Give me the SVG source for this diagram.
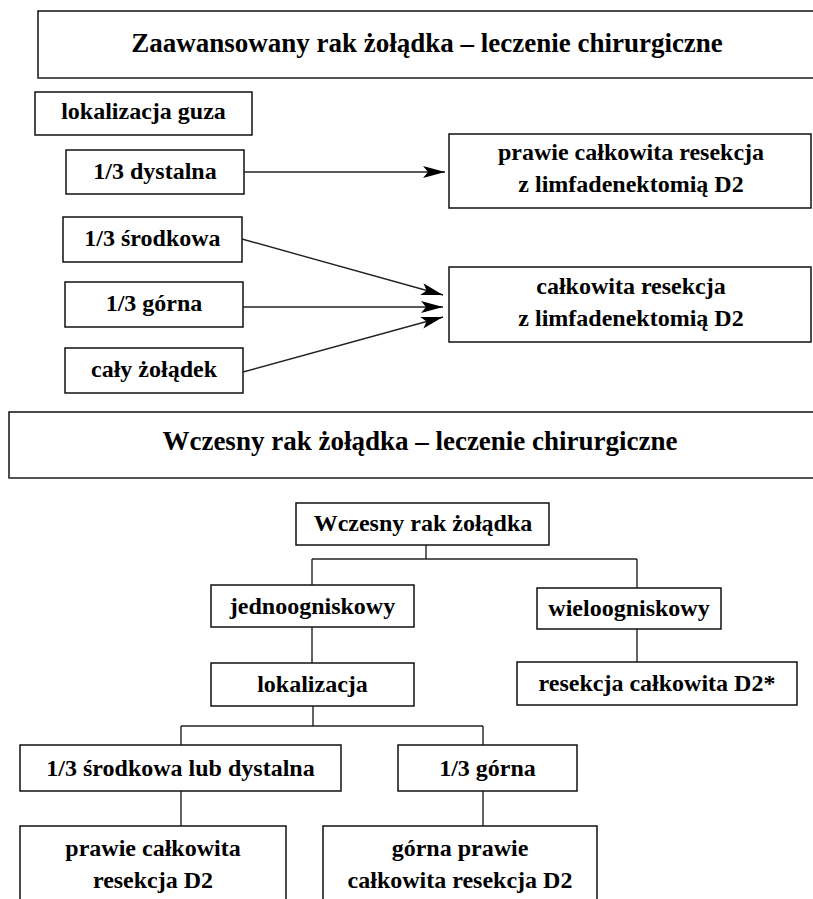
<svg xmlns="http://www.w3.org/2000/svg" width="813" height="899" viewBox="0 0 813 899">
<defs>
<style>
.box{fill:#fff;stroke:#111;stroke-width:1.5}
.t{font-family:"Liberation Serif","Times New Roman",serif;font-weight:bold;font-size:24px;fill:#000;text-anchor:middle}
.title{font-size:27px}
.ln{stroke:#222;stroke-width:1.4;fill:none}
.shadow{stroke:#555;stroke-width:2}
</style>
<marker id="arr" markerUnits="userSpaceOnUse" markerWidth="24" markerHeight="14" refX="22" refY="6" orient="auto">
<path d="M0,0 L22,6 L0,12 L5,6 Z" fill="#000"/>
</marker>
</defs>
<rect width="813" height="899" fill="#fff"/>

<g id="title1">
<rect class="box" x="38" y="11" width="790" height="67"/>
<line class="shadow" x1="38" y1="78" x2="813" y2="78"/>
<text class="t title" x="427" y="52">Zaawansowany rak żołądka – leczenie chirurgiczne</text>
</g>
<g id="lokalizacja-guza">
<rect class="box" x="35" y="92" width="217" height="43"/>
<text class="t" x="143.5" y="119">lokalizacja guza</text>
</g>
<g id="dystalna">
<rect class="box" x="66" y="150" width="178" height="44"/>
<text class="t" x="155" y="179">1/3 dystalna</text>
</g>
<g id="srodkowa">
<rect class="box" x="63" y="217" width="179" height="45"/>
<text class="t" x="152.5" y="246">1/3 środkowa</text>
</g>
<g id="gorna">
<rect class="box" x="65" y="282" width="178" height="45"/>
<text class="t" x="154" y="311">1/3 górna</text>
</g>
<g id="caly">
<rect class="box" x="65" y="348" width="178" height="45"/>
<text class="t" x="154" y="377">cały żołądek</text>
</g>
<g id="prawie-calkowita-d2">
<rect class="box" x="449" y="134" width="362" height="74"/>
<text class="t" x="631" y="160">prawie całkowita resekcja</text>
<text class="t" x="631" y="192">z limfadenektomią D2</text>
</g>
<g id="calkowita-d2">
<rect class="box" x="449" y="267" width="362" height="75"/>
<text class="t" x="631" y="294">całkowita resekcja</text>
<text class="t" x="631" y="326">z limfadenektomią D2</text>
</g>

<g id="title2">
<rect class="box" x="9" y="412" width="820" height="66"/>
<line class="shadow" x1="9" y1="478" x2="813" y2="478"/>
<text class="t title" x="420" y="450">Wczesny rak żołądka – leczenie chirurgiczne</text>
</g>
<g id="wczesny">
<rect class="box" x="296" y="503" width="253" height="42"/>
<text class="t" x="423" y="531">Wczesny rak żołądka</text>
</g>
<g id="jednoogniskowy">
<rect class="box" x="211" y="585" width="203" height="42"/>
<text class="t" x="312.5" y="614">jednoogniskowy</text>
</g>
<g id="wieloogniskowy">
<rect class="box" x="537" y="588" width="184" height="41"/>
<text class="t" x="629" y="616">wieloogniskowy</text>
</g>
<g id="lokalizacja">
<rect class="box" x="211" y="663" width="203" height="43"/>
<text class="t" x="312.5" y="692">lokalizacja</text>
</g>
<g id="resekcja-calkowita">
<rect class="box" x="517" y="662" width="280" height="43"/>
<text class="t" x="657" y="691">resekcja całkowita D2*</text>
</g>
<g id="srodkowa-dystalna">
<rect class="box" x="20" y="745" width="321" height="46"/>
<text class="t" x="180.5" y="776">1/3 środkowa lub dystalna</text>
</g>
<g id="gorna2">
<rect class="box" x="398" y="745" width="179" height="46"/>
<text class="t" x="487.5" y="776">1/3 górna</text>
</g>
<g id="prawie-calkowita">
<rect class="box" x="20" y="826" width="266" height="90"/>
<text class="t" x="153" y="856">prawie całkowita</text>
<text class="t" x="153" y="888">resekcja D2</text>
</g>
<g id="gorna-prawie">
<rect class="box" x="323" y="826" width="274" height="90"/>
<text class="t" x="460" y="856">górna prawie</text>
<text class="t" x="460" y="888">całkowita resekcja D2</text>
</g>

<g id="connectors">
<line class="ln" x1="244" y1="172" x2="445" y2="172" marker-end="url(#arr)"/>
<line class="ln" x1="242" y1="239" x2="443" y2="295" marker-end="url(#arr)"/>
<line class="ln" x1="243" y1="307" x2="443" y2="307" marker-end="url(#arr)"/>
<line class="ln" x1="243" y1="372" x2="443" y2="317" marker-end="url(#arr)"/>

<line class="ln" x1="426" y1="545" x2="426" y2="559"/>
<line class="ln" x1="312" y1="559" x2="637" y2="559"/>
<line class="ln" x1="312" y1="559" x2="312" y2="585"/>
<line class="ln" x1="637" y1="559" x2="637" y2="588"/>
<line class="ln" x1="312" y1="627" x2="312" y2="663"/>
<line class="ln" x1="637" y1="629" x2="637" y2="662"/>
<line class="ln" x1="313" y1="706" x2="313" y2="726"/>
<line class="ln" x1="181" y1="726" x2="483" y2="726"/>
<line class="ln" x1="181" y1="726" x2="181" y2="745"/>
<line class="ln" x1="483" y1="726" x2="483" y2="745"/>
<line class="ln" x1="181" y1="791" x2="181" y2="826"/>
<line class="ln" x1="483" y1="791" x2="483" y2="826"/>
</g>
</svg>
